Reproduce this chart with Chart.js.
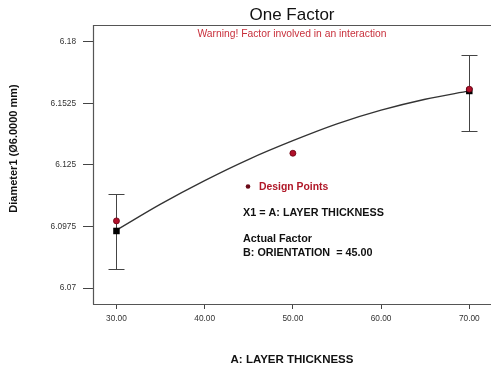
<!DOCTYPE html>
<html><head><meta charset="utf-8">
<script src="https://cdn.jsdelivr.net/npm/chart.js@4/dist/chart.umd.min.js"></script>
<style>html,body{margin:0;padding:0;background:#fff}#wrap{width:491px;height:367px}</style>
</head><body><div id="wrap"><canvas id="c" width="491" height="367"></canvas></div>
<script>
const curveX = [30, 35, 40, 45, 50, 55, 60, 65, 70];
const curveY = [6.0959, 6.1075, 6.1180, 6.1275, 6.1358, 6.1433, 6.1494, 6.1543, 6.1580];
const designX = [30, 50, 70];
const designY = [6.1000, 6.1302, 6.1588];
const predX = [30, 70];
const predY = [6.0955, 6.1580];
const errLow = [6.0784, 6.1403];
const errHigh = [6.1120, 6.1741];
const xTicks = [30, 40, 50, 60, 70];
const yTicks = [6.07, 6.0975, 6.125, 6.1525, 6.18];
const yTickLabels = ["6.07", "6.0975", "6.125", "6.1525", "6.18"];

const pts = (xs, ys) => xs.map((x, i) => ({x, y: ys[i]}));
const FF = 'Arial, "Liberation Sans", sans-serif';

const overlay = {
  id: 'overlay',
  beforeDatasetsDraw(chart) {
    const {ctx, scales: {x, y}} = chart;
    ctx.save();
    ctx.strokeStyle = '#444';
    ctx.lineWidth = 1;
    predX.forEach((px, i) => {
      const cx = Math.round(x.getPixelForValue(px)) + 0.5;
      const t = Math.round(y.getPixelForValue(errHigh[i])) + 0.5;
      const b = Math.round(y.getPixelForValue(errLow[i])) + 0.5;
      ctx.beginPath();
      ctx.moveTo(cx, t); ctx.lineTo(cx, b);
      ctx.moveTo(cx - 8, t); ctx.lineTo(cx + 8, t);
      ctx.moveTo(cx - 8, b); ctx.lineTo(cx + 8, b);
      ctx.stroke();
    });
    ctx.restore();
  },
  afterDraw(chart) {
    const {ctx, chartArea: a} = chart;
    ctx.save();
    ctx.strokeStyle = '#555';
    ctx.lineWidth = 1.2;
    ctx.beginPath();
    ctx.moveTo(a.left + 0.5, a.bottom + 0.5);
    ctx.lineTo(a.left + 0.5, a.top + 0.5);
    ctx.lineTo(a.right + 2, a.top + 0.5);
    ctx.moveTo(a.left, a.bottom + 0.5);
    ctx.lineTo(a.right + 2, a.bottom + 0.5);
    ctx.stroke();
    const cx = (a.left + a.right) / 2;
    ctx.textAlign = 'center';
    ctx.textBaseline = 'middle';
    ctx.fillStyle = '#111';
    ctx.font = '17px ' + FF;
    ctx.fillText('One Factor', cx, 15);
    ctx.fillStyle = '#c8303c';
    ctx.font = '10.3px ' + FF;
    ctx.fillText('Warning! Factor involved in an interaction', cx, 34);
    ctx.fillStyle = '#111';
    ctx.font = 'bold 11.5px ' + FF;
    ctx.fillText('A: LAYER THICKNESS', 292, 360);
    ctx.save();
    ctx.translate(14, 148.5);
    ctx.rotate(-Math.PI / 2);
    ctx.font = 'bold 11px ' + FF;
    ctx.fillText('Diameter1 (\u00d86.0000 mm)', 0, 0);
    ctx.restore();
    // legend / annotation
    ctx.fillStyle = '#6a0a18';
    ctx.beginPath();
    ctx.arc(248, 186.5, 2.3, 0, Math.PI * 2);
    ctx.fill();
    ctx.textAlign = 'left';
    ctx.fillStyle = '#b01828';
    ctx.font = 'bold 10.4px ' + FF;
    ctx.fillText('Design Points', 259, 187);
    ctx.fillStyle = '#111';
    ctx.font = 'bold 10.8px ' + FF;
    ctx.fillText('X1 = A: LAYER THICKNESS', 243, 213);
    ctx.fillText('Actual Factor', 243, 239.5);
    ctx.fillText('B: ORIENTATION  = 45.00', 243, 253);
    ctx.restore();
  }
};

new Chart(document.getElementById('c'), {
  type: 'scatter',
  data: {
    datasets: [
      {type: 'line', data: pts(curveX, curveY), borderColor: '#333', borderWidth: 1.3,
       pointRadius: 0, cubicInterpolationMode: 'monotone', fill: false, order: 3},
      {data: pts(predX, predY), pointStyle: 'rect', pointRadius: 4.6, backgroundColor: '#000',
       borderColor: '#000', borderWidth: 0, order: 2},
      {data: pts(designX, designY), pointStyle: 'circle', pointRadius: 3, backgroundColor: '#b0102a',
       borderColor: '#6a0010', borderWidth: 0.8, order: 1}
    ]
  },
  options: {
    responsive: false,
    animation: false,
    events: [],
    layout: {autoPadding: false, padding: {left: 0, top: 25, right: 0, bottom: 0}},
    plugins: {legend: {display: false}, tooltip: {enabled: false}, title: {display: false}},
    scales: {
      x: {
        type: 'linear', min: 27.34, max: 72.46,
        afterBuildTicks: s => { s.ticks = xTicks.map(v => ({value: v})); },
        afterFit: s => { s.height = 63; },
        grid: {display: true, drawOnChartArea: false, drawTicks: true, tickLength: 5, color: '#444'},
        border: {display: false},
        ticks: {callback: v => v.toFixed(2), color: '#333', padding: 5, maxRotation: 0,
                font: {size: 8.3, family: FF}}
      },
      y: {
        type: 'linear', min: 6.0629, max: 6.18745,
        afterBuildTicks: s => { s.ticks = yTicks.map(v => ({value: v})); },
        afterFit: s => { s.width = 93; },
        grid: {display: true, drawOnChartArea: false, drawTicks: true, tickLength: 10, color: '#444'},
        border: {display: false},
        ticks: {callback: (v) => yTickLabels[yTicks.indexOf(v)] ?? '', color: '#333', padding: 7,
                font: {size: 8.3, family: FF}}
      }
    }
  },
  plugins: [overlay]
});
</script></body></html>
